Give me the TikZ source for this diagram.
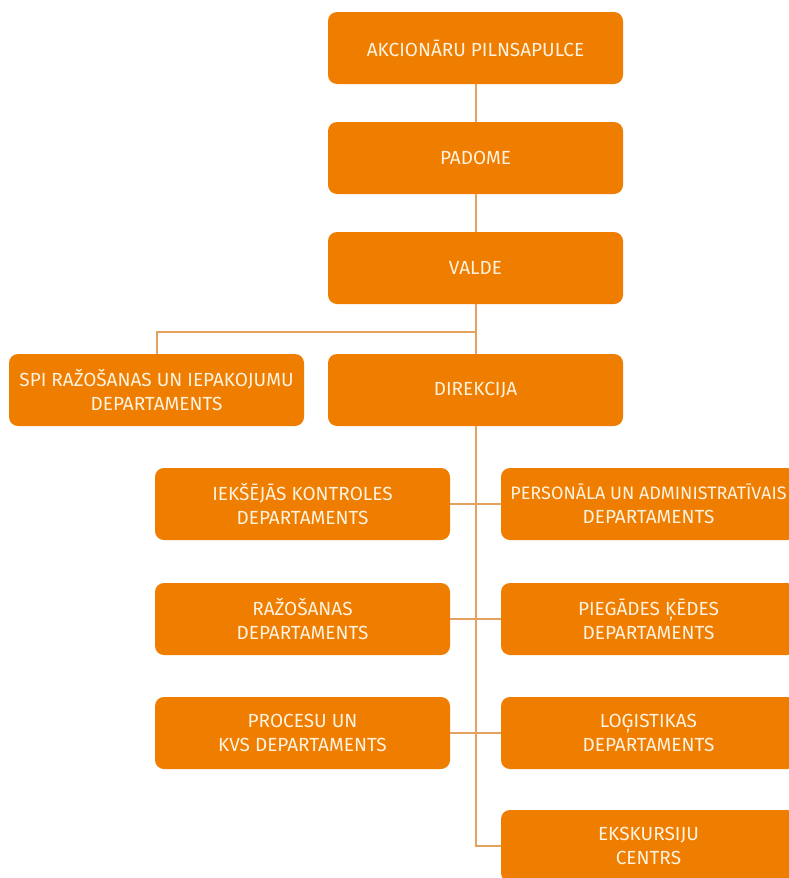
\documentclass[tikz,border=0pt]{standalone}
\usepackage{fontspec}
\setmainfont{Fira Sans}
\definecolor{boxor}{HTML}{EE7D00}
\definecolor{lineor}{HTML}{E3A25E}
\definecolor{txt}{HTML}{FFF3E0}
\begin{document}
\begin{tikzpicture}[x=1pt,y=-1pt,
  box/.style={fill=boxor, rounded corners=9pt, minimum width=295pt, minimum height=72pt, text=txt, align=center, font=\fontsize{19}{24}\selectfont, inner sep=0pt},
  conn/.style={draw=lineor, line width=2pt}]
\useasboundingbox (0,0) rectangle (789,878);
\clip (0,0) rectangle (789,878);
\node[box] (a) at (475.5,48) {AKCIONĀRU PILNSAPULCE};
\node[box] (p) at (475.5,158) {PADOME};
\node[box] (v) at (475.5,268) {VALDE};
\node[box] (s) at (156.5,390) {SPI RAŽOŠANAS UN IEPAKOJUMU\\DEPARTAMENTS};
\node[box] (d) at (475.5,390) {DIREKCIJA};
\node[box] (l1) at (302.5,504) {IEKŠĒJĀS KONTROLES\\DEPARTAMENTS};
\node[box] (l2) at (302.5,619) {RAŽOŠANAS\\DEPARTAMENTS};
\node[box] (l3) at (302.5,733) {PROCESU UN\\KVS DEPARTAMENTS};
\node[box, font=\fontsize{18}{24}\selectfont] (r1) at (648.5,504) {PERSONĀLA UN ADMINISTRATĪVAIS\\\fontsize{19}{24}\selectfont DEPARTAMENTS};
\node[box] (r2) at (648.5,619) {PIEGĀDES ĶĒDES\\DEPARTAMENTS};
\node[box] (r3) at (648.5,733) {LOĢISTIKAS\\DEPARTAMENTS};
\node[box] (r4) at (648.5,846) {EKSKURSIJU\\CENTRS};
\coordinate (j) at (475.5,332);
\coordinate (e) at (475.5,846);
\draw[conn] (a.south) -- (p.north);
\draw[conn] (p.south) -- (v.north);
\draw[conn] (v.south) -- (j) -| (s.north);
\draw[conn] (j) -- (d.north);
\draw[conn] (d.south) -- (e) -- (r4.west);
\draw[conn] (l1.east) -- (r1.west);
\draw[conn] (l2.east) -- (r2.west);
\draw[conn] (l3.east) -- (r3.west);
\end{tikzpicture}
\end{document}
